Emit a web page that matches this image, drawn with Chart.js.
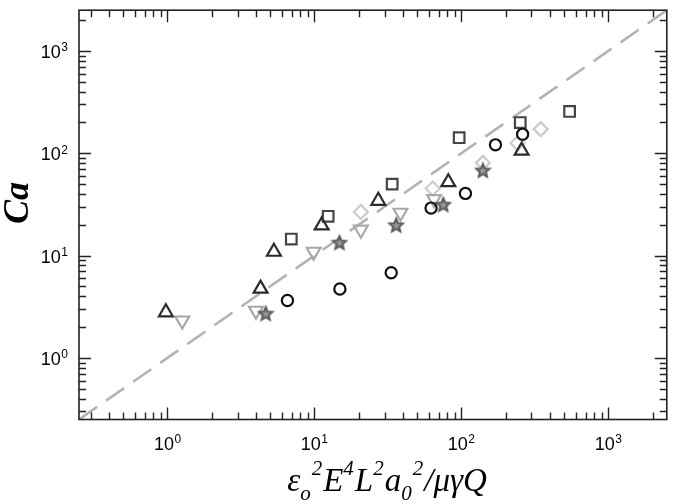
<!DOCTYPE html>
<html><head><meta charset="utf-8">
<script src="https://cdn.jsdelivr.net/npm/chart.js@4.4.0/dist/chart.umd.min.js"></script>
<style>html,body{margin:0;padding:0;background:#fff;}#wrap{width:677px;height:504px;position:relative;}</style>
</head><body><div id="wrap"><canvas id="c" width="677" height="504"></canvas></div>
<script>
// ---- data ----
const circleX   = [6.55, 14.9, 33.3, 62.2, 106.6, 170.6, 261];
const circleY   = [3.64, 4.71, 6.8, 29.1, 40.5, 120.8, 153];
const triUpX    = [0.975, 4.3, 5.3, 11.2, 27.2, 81.5, 257];
const triUpY    = [2.79, 4.75, 10.9, 19.7, 34.3, 52.1, 105.9];
const squareX   = [6.96, 12.4, 33.8, 96.6, 251.6, 545];
const squareY   = [14.5, 24.2, 49.9, 141.9, 199.5, 256];
const triDownX  = [1.26, 4.0, 9.87, 20.7, 38.5, 65.2];
const triDownY  = [2.32, 2.89, 10.9, 17.9, 26.2, 35.6];
const diamondX  = [20.7, 63.8, 140, 241, 347];
const diamondY  = [26.7, 45.3, 80.5, 125, 172];
const starX     = [4.66, 14.8, 36.0, 75.3, 140];
const starY     = [2.71, 13.4, 19.8, 31.5, 67.9];
const fitX      = [0.25, 2500];
const fitY      = [0.25, 2500];
const axisMin = 0.25, axisMax = 2500;
const tickExponents = [0, 1, 2, 3];
const xTitleParts = [['ε','n'],['o','sub'],['2','sup'],['E','n'],['4','sup'],['L','n'],['2','sup'],['a','n'],['0','sub'],['2','sup'],['/μγQ','n']];
const yTitle = 'Ca';

const pts = (xs, ys) => xs.map((x, i) => ({x: x, y: ys[i]}));

// five-pointed star marker
function makeStar() {
  const c = document.createElement('canvas');
  c.width = 18; c.height = 18;
  const g = c.getContext('2d');
  const cx = 9, cy = 9.5, R = 7, r = 3.2;
  g.beginPath();
  for (let i = 0; i < 10; i++) {
    const rad = i % 2 === 0 ? R : r;
    const a = -Math.PI / 2 + i * Math.PI / 5;
    const px = cx + rad * Math.cos(a), py = cy + rad * Math.sin(a);
    if (i === 0) g.moveTo(px, py); else g.lineTo(px, py);
  }
  g.closePath();
  g.fillStyle = '#959595';
  g.fill();
  g.lineWidth = 2;
  g.lineJoin = 'miter';
  g.strokeStyle = '#5a5a5a';
  g.stroke();
  return c;
}

const decor = {
  id: 'decor',
  afterDatasetsDraw(chart) {
    const ctx = chart.ctx, a = chart.chartArea, xs = chart.scales.x, ys = chart.scales.y;
    ctx.save();
    // ticks (inward, all four sides)
    ctx.strokeStyle = '#222';
    ctx.lineWidth = 1.4;
    ctx.beginPath();
    for (let k = -1; k <= 3; k++) {
      for (let m = 1; m <= 9; m++) {
        const v = m * Math.pow(10, k);
        if (v < axisMin || v > axisMax) continue;
        const len = m === 1 ? 12 : 7;
        const px = Math.round(xs.getPixelForValue(v)) + 0.5;
        ctx.moveTo(px, a.bottom); ctx.lineTo(px, a.bottom - len);
        ctx.moveTo(px, a.top); ctx.lineTo(px, a.top + len);
        const py = Math.round(ys.getPixelForValue(v)) + 0.5;
        ctx.moveTo(a.left, py); ctx.lineTo(a.left + len, py);
        ctx.moveTo(a.right, py); ctx.lineTo(a.right - len, py);
      }
    }
    ctx.stroke();
    // frame
    ctx.lineWidth = 1.6;
    ctx.strokeRect(a.left, a.top, a.right - a.left, a.bottom - a.top);

    // tick labels
    ctx.fillStyle = '#000';
    ctx.textBaseline = 'alphabetic';
    ctx.textAlign = 'left';
    const mainF = '18px "Liberation Sans", Arial, sans-serif';
    const supF = '12px "Liberation Sans", Arial, sans-serif';
    tickExponents.forEach(e => {
      const v = Math.pow(10, e);
      ctx.font = mainF; const w1 = ctx.measureText('10').width;
      ctx.font = supF; const w2 = ctx.measureText(String(e)).width;
      const w = w1 + w2 + 0.5;
      // x axis
      const px = xs.getPixelForValue(v);
      const bx = px - w / 2, by = a.bottom + 30;
      ctx.font = mainF; ctx.fillText('10', bx, by);
      ctx.font = supF; ctx.fillText(String(e), bx + w1 + 0.5, by - 6.5);
      // y axis
      const py = ys.getPixelForValue(v);
      const rx = a.left - 11 - w, ry = py + 7;
      ctx.font = mainF; ctx.fillText('10', rx, ry);
      ctx.font = supF; ctx.fillText(String(e), rx + w1 + 0.5, ry - 6.5);
    });

    // x title
    const tMain = 'italic 33px "Liberation Serif", "Times New Roman", serif';
    const tSmall = 'italic 21px "Liberation Serif", "Times New Roman", serif';
    let total = 0;
    xTitleParts.forEach(([t, mode]) => { ctx.font = mode === 'n' ? tMain : tSmall; total += ctx.measureText(t).width + (mode === 'n' ? 0 : 1); });
    let tx = 387 - total / 2;
    const tb = 491;
    xTitleParts.forEach(([t, mode]) => {
      ctx.font = mode === 'n' ? tMain : tSmall;
      const yy = mode === 'sup' ? tb - 16 : (mode === 'sub' ? tb + 9 : tb);
      ctx.fillText(t, tx, yy);
      tx += ctx.measureText(t).width + (mode === 'n' ? 0 : 1);
    });

    // y title
    ctx.save();
    ctx.translate(28, 203);
    ctx.rotate(-Math.PI / 2);
    ctx.textAlign = 'center';
    ctx.font = 'bold italic 36px "Liberation Serif", "Times New Roman", serif';
    ctx.fillText(yTitle, 0, 0);
    ctx.restore();
    ctx.restore();
  }
};

const starImg = makeStar();

new Chart(document.getElementById('c'), {
  type: 'scatter',
  data: {
    datasets: [
      { type: 'line', data: pts(fitX, fitY), borderColor: '#b3b3b3', borderWidth: 2.6, borderDash: [22, 11], pointRadius: 0, fill: false, order: 10 },
      { data: pts(diamondX, diamondY), pointStyle: 'rectRot', pointRadius: 7, borderColor: '#cccccc', backgroundColor: 'rgba(0,0,0,0)', borderWidth: 2.2, order: 9 },
      { data: pts(triDownX, triDownY), pointStyle: 'triangle', rotation: 180, pointRadius: 8, borderColor: '#a8a8a8', backgroundColor: 'rgba(0,0,0,0)', borderWidth: 2.2, order: 8 },
      { data: pts(starX, starY), pointStyle: starImg, pointRadius: 8, order: 7 },
      { data: pts(squareX, squareY), pointStyle: 'rect', pointRadius: 7.5, borderColor: '#454545', backgroundColor: 'rgba(0,0,0,0)', borderWidth: 2.2, order: 6 },
      { data: pts(triUpX, triUpY), pointStyle: 'triangle', pointRadius: 8, borderColor: '#2b2b2b', backgroundColor: 'rgba(0,0,0,0)', borderWidth: 2.2, order: 5 },
      { data: pts(circleX, circleY), pointStyle: 'circle', pointRadius: 5.6, borderColor: '#111111', backgroundColor: 'rgba(0,0,0,0)', borderWidth: 2.2, order: 4 }
    ]
  },
  options: {
    responsive: false,
    animation: false,
    devicePixelRatio: 1,
    layout: { padding: { left: 79, right: 5, top: 3, bottom: 84.5 } },
    plugins: { legend: { display: false }, tooltip: { enabled: false } },
    scales: {
      x: { type: 'logarithmic', min: axisMin, max: axisMax, display: false },
      y: { type: 'logarithmic', min: axisMin, max: axisMax, display: false }
    }
  },
  plugins: [decor]
});
</script>
</body></html>
